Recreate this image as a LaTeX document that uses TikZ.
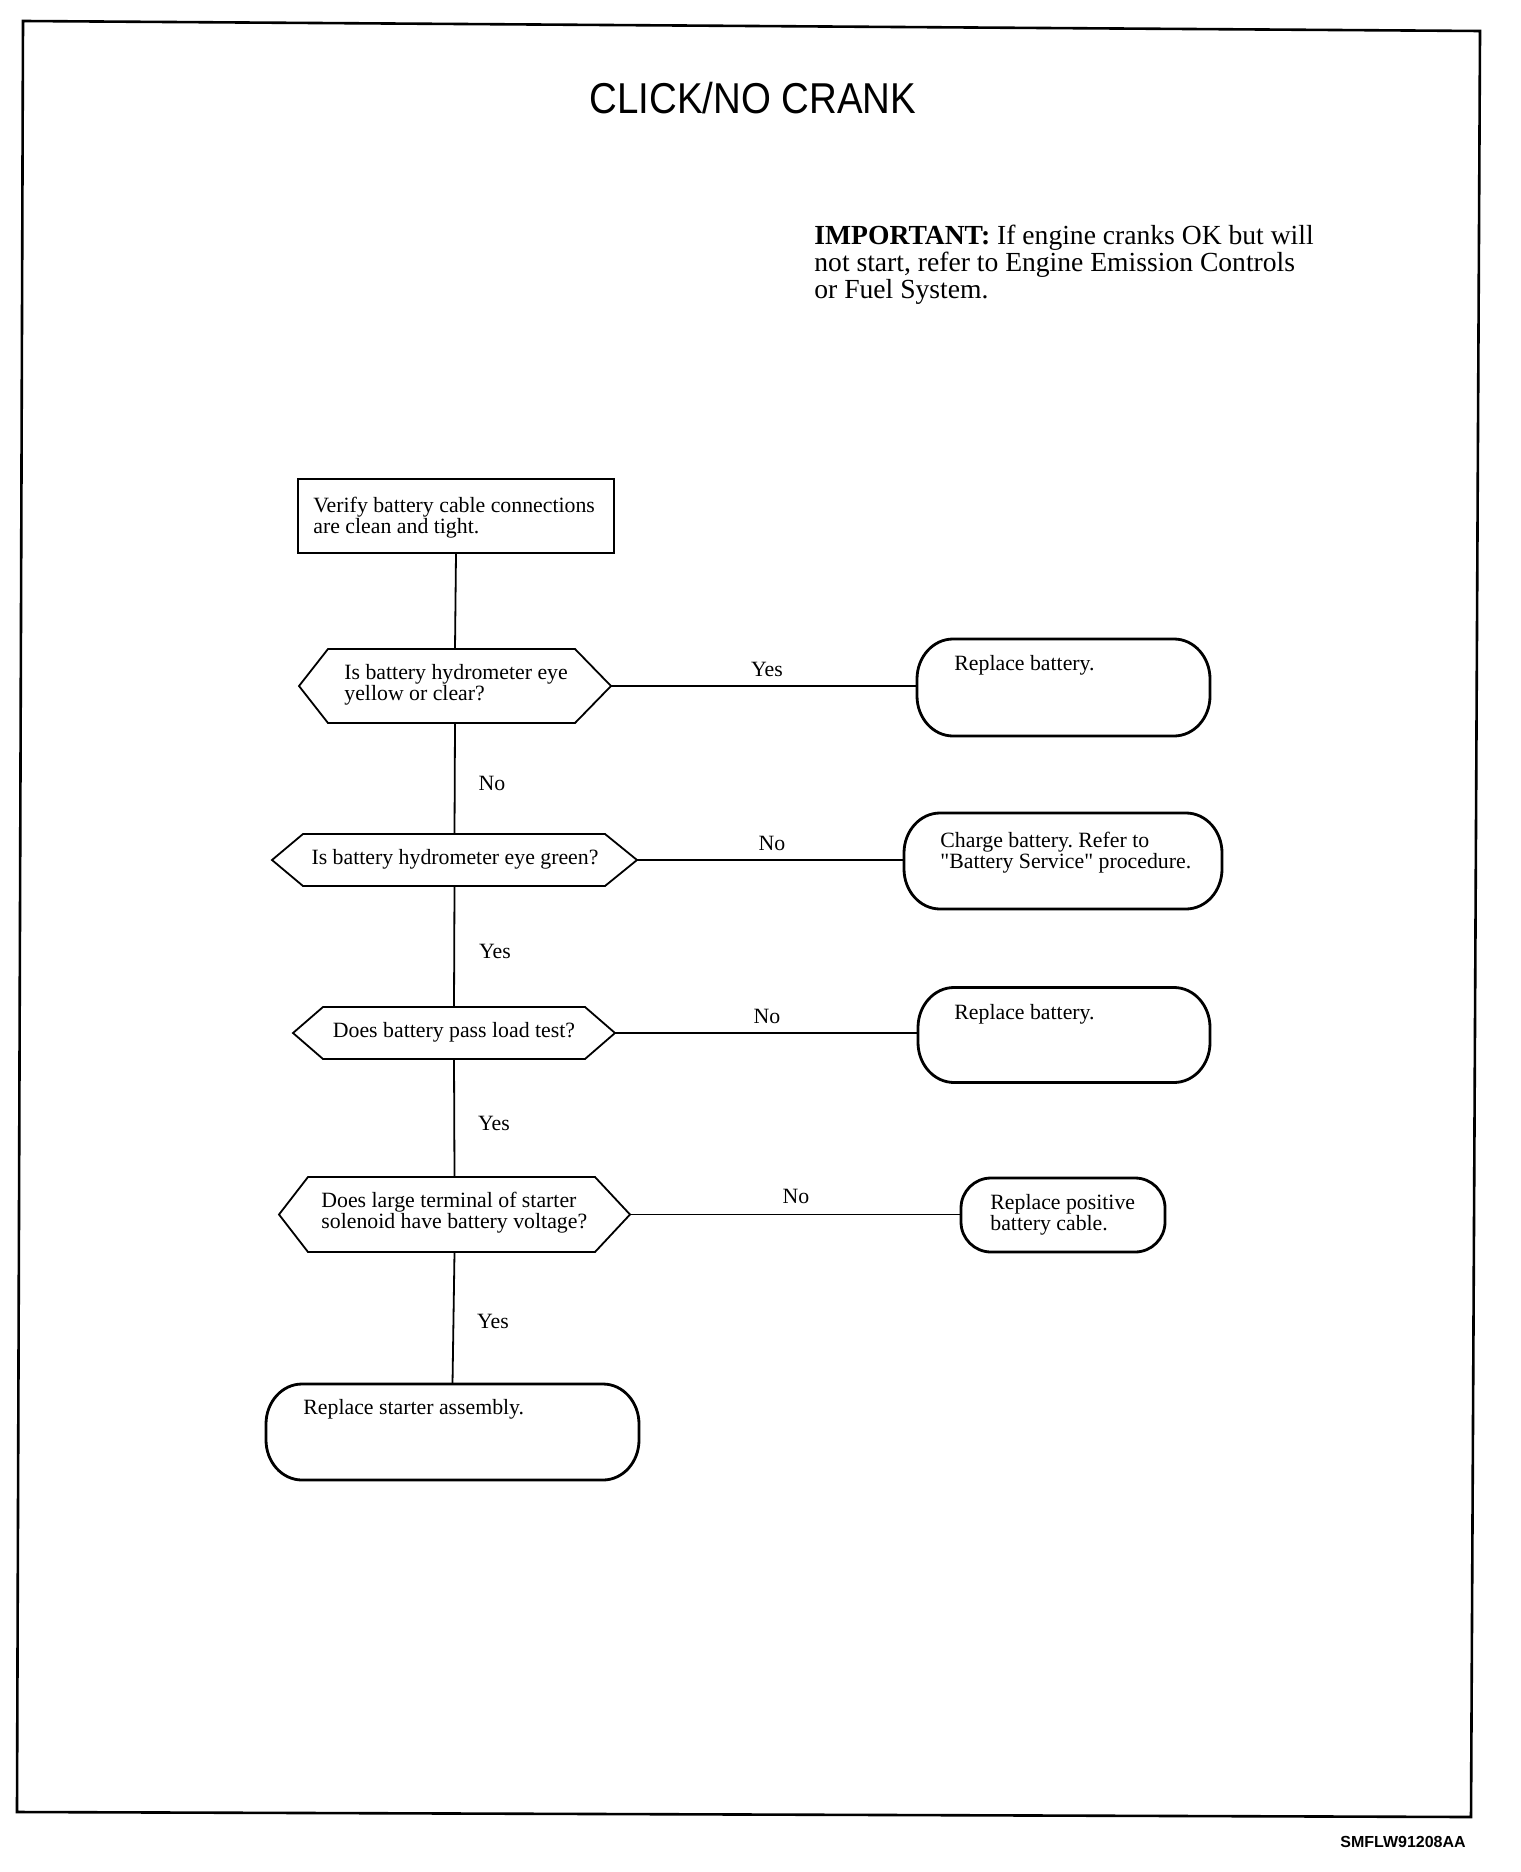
\documentclass[tikz,border=0pt]{standalone}
\usepackage{fontspec}
\setmainfont{Liberation Serif}[Ligatures=TeXOff]
\newfontfamily\sansfont{Liberation Sans}
\usetikzlibrary{calc}
\frenchspacing
\tikzset{
  frameline/.style={line width=1.3pt, line join=miter},
  conn/.style={line width=0.9pt},
  hexline/.style={line width=0.9pt, line join=miter},
  termline/.style={line width=1.4pt},
  boxline/.style={line width=1.4pt},
  holder/.style 2 args={rectangle, inner sep=0pt, outer sep=0pt,
    minimum width={#1*0.5pt}, minimum height={#2*0.5pt}},
  flowtext/.style={inner sep=0pt, font=\fontsize{10.9}{10.5}\selectfont, align=left},
  lbl/.style={inner sep=0pt, font=\fontsize{10.9}{10.5}\selectfont},
  titletext/.style={inner sep=0pt, font=\sansfont\fontsize{21.6}{24}\selectfont},
  notetext/.style={inner sep=0pt, font=\fontsize{13.8}{13.5}\selectfont, align=left},
  foottext/.style={inner sep=0pt, font=\sansfont\bfseries\fontsize{8}{9}\selectfont},
}
\newcommand\termdraw[3]{%
  \draw[termline] ($(#1.north west)+(#2,0)$) -- ($(#1.north east)+(-#2,0)$)
    arc[start angle=90,end angle=0,x radius={#2*0.5pt},y radius={#3*0.5pt}]
    -- ($(#1.south east)+(0,#3)$)
    arc[start angle=0,end angle=-90,x radius={#2*0.5pt},y radius={#3*0.5pt}]
    -- ($(#1.south west)+(#2,0)$)
    arc[start angle=270,end angle=180,x radius={#2*0.5pt},y radius={#3*0.5pt}]
    -- ($(#1.north west)+(0,-#3)$)
    arc[start angle=180,end angle=90,x radius={#2*0.5pt},y radius={#3*0.5pt}]
    -- cycle;}
\newcommand\hexdraw[3]{%
  \draw[hexline] (#1.west) -- ($(#1.north west)+(#2,0)$) -- ($(#1.north east)+(-#3,0)$)
    -- (#1.east) -- ($(#1.south east)+(-#3,0)$) -- ($(#1.south west)+(#2,0)$) -- cycle;}
\begin{document}
\begin{tikzpicture}[x=0.5pt,y=0.5pt]
\useasboundingbox (0,0) rectangle (1520,-1872);
% frame
\coordinate (ftl) at (23,-21);
\coordinate (ftr) at (1480,-31);
\coordinate (fbr) at (1471,-1817);
\coordinate (fbl) at (17,-1812);
\draw[frameline] (ftl) -- (ftr) -- (fbr) -- (fbl) -- cycle;

% title and note
\node[titletext, anchor=base] (title) at (753,-114) {\scalebox{0.89}[1]{CLICK/NO CRANK}};
\node[notetext, anchor=west] (note) at (814,-265)
  {\textbf{IMPORTANT:} If engine cranks OK but will\\not start, refer to Engine Emission Controls\\or Fuel System.};
\node[foottext] (foot) at (1403,-1842) {SMFLW91208AA};

% shape holders
\node[holder={316}{74}] (box) at (456,-516) {};
\node[holder={312}{74}] (h1) at (455,-686) {};
\node[holder={365}{52}] (h2) at (454.5,-860) {};
\node[holder={322}{52}] (h3) at (454,-1033) {};
\node[holder={351}{75}] (h4) at (454.5,-1214.5) {};
\node[holder={293}{97}] (t1) at (1063.5,-687.5) {};
\node[holder={318}{96}] (t2) at (1063,-861) {};
\node[holder={292}{95}] (t3) at (1064,-1035) {};
\node[holder={204}{74}] (t4) at (1063,-1215) {};
\node[holder={373}{96}] (t5) at (452.5,-1432) {};

% outlines
\draw[boxline] (box.north west) rectangle (box.south east);
\hexdraw{h1}{29}{36}
\hexdraw{h2}{31}{32}
\hexdraw{h3}{30}{30}
\hexdraw{h4}{29}{35}
\termdraw{t1}{36}{40}
\termdraw{t2}{36}{40}
\termdraw{t3}{36}{40}
\termdraw{t4}{30}{30}
\termdraw{t5}{36}{40}

% texts
\node[flowtext, anchor=west] (boxtxt) at (313,-518) {Verify battery cable connections\\are clean and tight.};
\node[flowtext, anchor=west] (h1txt) at (344,-684.5) {Is battery hydrometer eye\\yellow or clear?};
\node[flowtext] (h2txt) at (455,-859) {Is battery hydrometer eye green?};
\node[flowtext] (h3txt) at (454,-1032) {Does battery pass load test?};
\node[flowtext, anchor=west] (h4txt) at (321,-1212.5) {Does large terminal of starter\\solenoid have battery voltage?};
\node[flowtext, anchor=west] (t1txt) at (954,-665) {Replace battery.};
\node[flowtext, anchor=west] (t2txt) at (940,-852.5) {Charge battery. Refer to\\"Battery Service" procedure.};
\node[flowtext, anchor=west] (t3txt) at (954,-1014) {Replace battery.};
\node[flowtext, anchor=west] (t4txt) at (990,-1215) {Replace positive\\battery cable.};
\node[flowtext, anchor=west] (t5txt) at (303,-1409) {Replace starter assembly.};

% connectors
\draw[conn] (box.south) -- (h1.north);
\draw[conn] (h1.east) -- (h1.east -| t1.west);
\draw[conn] (h1.south) -- (h2.north);
\draw[conn] (h2.east) -- (h2.east -| t2.west);
\draw[conn] (h2.south) -- (h3.north);
\draw[conn] (h3.east) -- (h3.east -| t3.west);
\draw[conn] (h3.south) -- (h4.north);
\draw[conn] (h4.east) -- (h4.east -| t4.west);
\draw[conn] (h4.south) -- (t5.north);

% labels
\node[lbl] (l1) at (767,-669) {Yes};
\node[lbl] (l2) at (492,-783) {No};
\node[lbl] (l3) at (772,-843) {No};
\node[lbl] (l4) at (495,-951) {Yes};
\node[lbl] (l5) at (767,-1016) {No};
\node[lbl] (l6) at (494,-1123) {Yes};
\node[lbl] (l7) at (796,-1196) {No};
\node[lbl] (l8) at (493,-1321) {Yes};
\end{tikzpicture}
\end{document}
